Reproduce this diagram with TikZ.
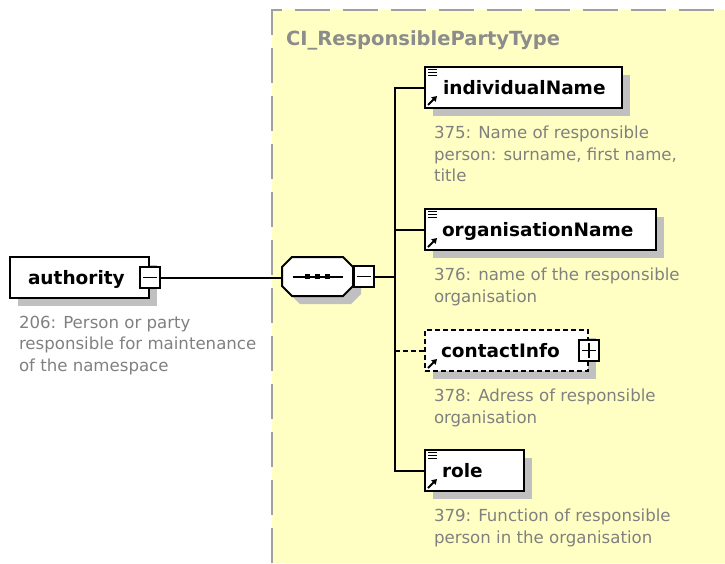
\documentclass[tikz,border=0pt]{standalone}
\usepackage{fontspec}
\setmainfont{DejaVu Sans}
\usepackage{xcolor}
\usepackage{tikz}
\usetikzlibrary{positioning}
\usetikzlibrary{calc}
\usetikzlibrary{shadows}
\usetikzlibrary{arrows.meta}
\definecolor{typebg}{RGB}{255,255,196}
\definecolor{typeframe}{RGB}{160,160,160}
\definecolor{shadowgray}{RGB}{192,192,192}
\definecolor{docgray}{RGB}{128,128,128}
\definecolor{titlegray}{RGB}{140,140,140}

\begin{document}
\begin{tikzpicture}[x=1pt, y=-1pt, line width=2pt,
    element/.style={draw, fill=white, anchor=north west, minimum height=41pt,
      inner xsep=0pt, inner ysep=0pt, align=left, text height=14pt, text depth=0pt,
      font=\fontsize{18.5pt}{20pt}\bfseries\selectfont,
      copy shadow={shadow xshift=8pt, shadow yshift=-8pt, draw=none, fill=shadowgray}},
    doc/.style={inner sep=0pt, align=left, text=docgray,
      font=\fontsize{16.6pt}{21.5pt}\selectfont},
    toggle/.style={draw, fill=white, minimum width=20pt, minimum height=21pt,
      inner sep=0pt, line width=1.6pt},
    optional/.style={dash pattern=on 5pt off 3pt}]
    \useasboundingbox (0,0) rectangle (725,563);

    % complex type area
    \fill[typebg] (272,10) rectangle (725,563);
    \draw[typeframe, line width=2pt, dash pattern=on 35pt off 13pt] (272,563) -- (272,10) -- (725,10);
    \node[anchor=base west, inner sep=0pt, text=titlegray,
      font=\fontsize{19.5pt}{20pt}\bfseries\selectfont] (typename) at (285,45) {CI\_ResponsiblePartyType};

    % elements
    \node[element, text width=139pt] (auth) at (9,256) {\hspace*{18pt}authority};
    \node[element, text width=197pt] (ind) at (424,66) {\hspace*{18pt}individualName};
    \node[element, text width=231pt] (org) at (424,208) {\hspace*{17pt}organisationName};
    \node[element, optional, text width=163pt] (con) at (424,329) {\hspace*{16pt}contactInfo};
    \node[element, text width=99pt] (role) at (424,449) {\hspace*{17pt}role};

    % documentation
    \node[doc, below right=16pt and 9pt of auth.south west] (authdoc)
      {206: Person or party\\responsible for maintenance\\of the namespace};
    \node[doc, below right=16pt and 9pt of ind.south west] (inddoc)
      {375: Name of responsible\\person: surname, first name,\\title};
    \node[doc, below right=16pt and 9pt of org.south west] (orgdoc)
      {376: name of the responsible\\organisation};
    \node[doc, below right=16pt and 9pt of con.south west] (condoc)
      {378: Adress of responsible\\organisation};
    \node[doc, below right=16pt and 9pt of role.south west] (roledoc)
      {379: Function of responsible\\person in the organisation};

    % sequence compositor
    \node[minimum width=69pt, minimum height=37pt, inner sep=0pt] (seq) at (317.5,276.5) {};
    \fill[shadowgray, transform canvas={shift={(8pt,-8pt)}}]
      ([xshift=10pt]seq.north west) -- ([xshift=-10pt]seq.north east)
      -- ([yshift=-10pt]seq.north east) -- ([yshift=10pt]seq.south east)
      -- ([xshift=-10pt]seq.south east) -- ([xshift=10pt]seq.south west)
      -- ([yshift=10pt]seq.south west) -- ([yshift=-10pt]seq.north west) -- cycle;
    \draw[fill=white]
      ([xshift=10pt]seq.north west) -- ([xshift=-10pt]seq.north east)
      -- ([yshift=-10pt]seq.north east) -- ([yshift=10pt]seq.south east)
      -- ([xshift=-10pt]seq.south east) -- ([xshift=10pt]seq.south west)
      -- ([yshift=10pt]seq.south west) -- ([yshift=-10pt]seq.north west) -- cycle;
    \draw ([xshift=-25pt]seq.center) -- ([xshift=25pt]seq.center);
    \foreach \dx in {-10,0,10}
      \fill ([xshift=\dx pt]seq.center) ++(-2.5,-2.5) rectangle ++(5,5);

    % expand boxes
    \node[toggle] (authsw) at (auth.east) {};
    \node[toggle, anchor=west] (seqsw) at (seq.east) {};
    \node[toggle] (consw) at (con.east) {};
    \draw[line width=1.4pt] ([xshift=4pt]authsw.west) -- ([xshift=-4pt]authsw.east);
    \draw[line width=1.4pt] ([xshift=4pt]seqsw.west) -- ([xshift=-4pt]seqsw.east);
    \draw[line width=1.4pt] ([xshift=4pt]consw.west) -- ([xshift=-4pt]consw.east);
    \draw[line width=1.4pt] ([yshift=-4pt]consw.north) -- ([yshift=4pt]consw.south);

    % icons
    \foreach \n in {ind,org,role}
      \foreach \dy in {3,6,9}
        \draw[line width=1pt] ([shift={(4pt,-\dy pt)}]\n.north west) -- ++(9,0);
    \foreach \n in {ind,org,con,role}
      \draw[line width=2pt, -{Triangle[length=5pt, width=6pt]}]
        ([shift={(4pt,4pt)}]\n.south west) -- ++(9,-9);

    % connectors
    \coordinate (bus) at (395,0);
    \draw (authsw.east) -- (authsw.east -| seq.west);
    \draw (seqsw.east) -- (seqsw.east -| bus);
    \draw (ind.west) -- (ind.west -| bus) |- (role.west);
    \draw (org.west) -- (org.west -| bus);
    \draw[optional] (con.west) -- (con.west -| bus);
\end{tikzpicture}
\end{document}
